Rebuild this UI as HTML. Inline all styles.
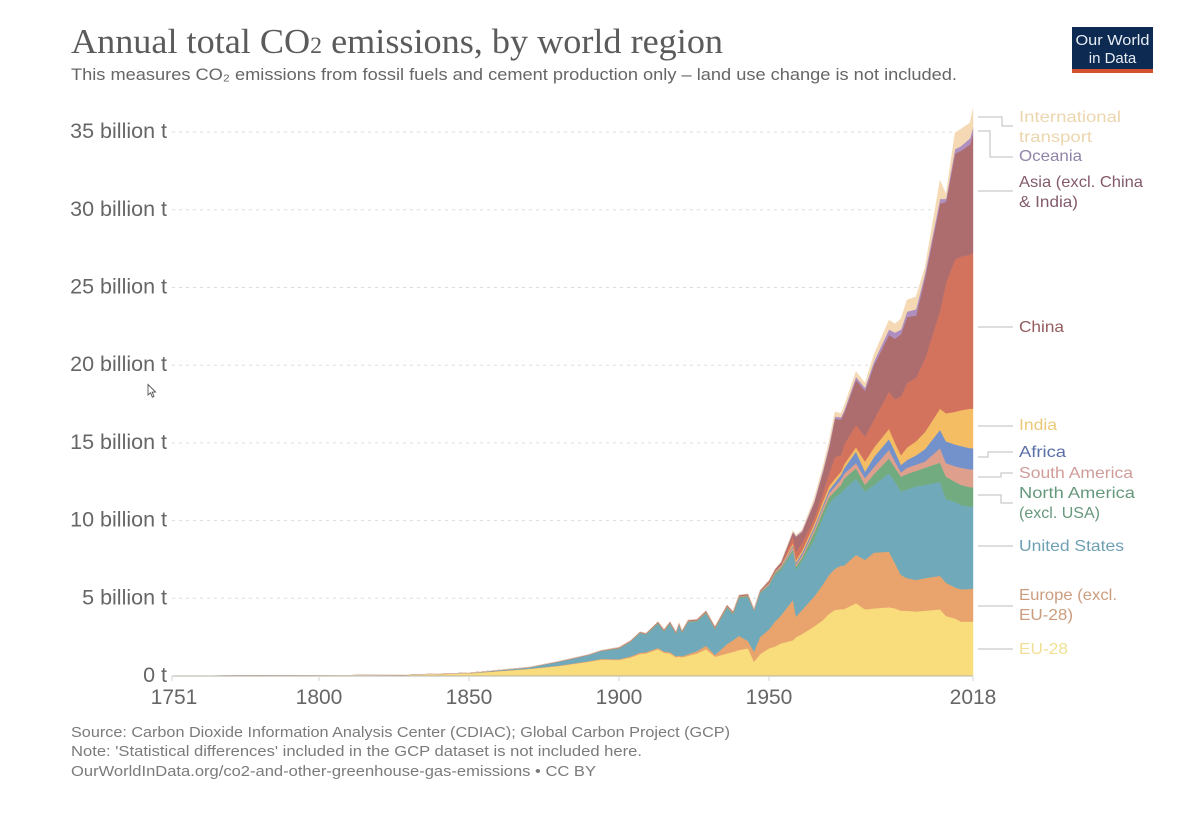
<!DOCTYPE html>
<html lang="en">
<head>
<meta charset="utf-8">
<title>Annual total CO2 emissions, by world region</title>
<style>
  html, body { margin: 0; padding: 0; background: #fff; }
  svg { display: block; font-family: "Liberation Sans", sans-serif; filter: blur(0.35px); }
</style>
</head>
<body>
<svg id="chart" xmlns="http://www.w3.org/2000/svg" width="1200" height="815" viewBox="0 0 1200 815">
  <rect width="1200" height="815" fill="#ffffff"/>
  <text x="71" y="53" font-family="'Liberation Serif', serif" font-size="35" fill="#5b5b5b" textLength="652" lengthAdjust="spacingAndGlyphs">Annual total CO<tspan font-size="23">2</tspan> emissions, by world region</text>
  <text x="71" y="80" font-size="17" fill="#666666" textLength="886" lengthAdjust="spacingAndGlyphs">This measures CO₂ emissions from fossil fuels and cement production only – land use change is not included.</text>

  <g>
    <rect x="1072" y="27" width="81" height="46" fill="#0c2a52"/>
    <rect x="1072" y="69" width="81" height="4" fill="#d2522f"/>
    <text x="1112.5" y="45" font-size="15" fill="#e8edf4" text-anchor="middle" textLength="74" lengthAdjust="spacingAndGlyphs">Our World</text>
    <text x="1112.5" y="63" font-size="15" fill="#e8edf4" text-anchor="middle">in Data</text>
  </g>

  <g id="grid"></g>
  <g id="areas"></g>
  <g id="axes"></g>

  <g fill="none" stroke="#c9c9c9" stroke-width="1.2">
    <path d="M978 117H1002V126H1013"/>
    <path d="M978 131H990V157H1013"/>
    <path d="M978 191H1013"/>
    <path d="M978 327H1013"/>
    <path d="M978 426H1013"/>
    <path d="M978 457H988V452H1013"/>
    <path d="M978 477H1001V473H1013"/>
    <path d="M978 495H1001V503H1013"/>
    <path d="M978 546H1013"/>
    <path d="M978 606H1013"/>
    <path d="M978 649H1013"/>
  </g>

  <g font-size="16">
    <text x="1019" y="122" fill="#ecd6ae" textLength="102" lengthAdjust="spacingAndGlyphs">International</text>
    <text x="1019" y="142" fill="#ecd6ae" textLength="73" lengthAdjust="spacingAndGlyphs">transport</text>
    <text x="1019" y="161" fill="#9184a8" textLength="63" lengthAdjust="spacingAndGlyphs">Oceania</text>
    <text x="1019" y="187" fill="#835a6c" textLength="124" lengthAdjust="spacingAndGlyphs">Asia (excl. China</text>
    <text x="1019" y="207" fill="#835a6c" textLength="59" lengthAdjust="spacingAndGlyphs">&amp; India)</text>
    <text x="1019" y="332" fill="#945c5e" textLength="45" lengthAdjust="spacingAndGlyphs">China</text>
    <text x="1019" y="430" fill="#ecc978" textLength="38" lengthAdjust="spacingAndGlyphs">India</text>
    <text x="1019" y="457" fill="#5a6fa8" textLength="47" lengthAdjust="spacingAndGlyphs">Africa</text>
    <text x="1019" y="478" fill="#d09c9a" textLength="114" lengthAdjust="spacingAndGlyphs">South America</text>
    <text x="1019" y="498" fill="#66987c" textLength="116" lengthAdjust="spacingAndGlyphs">North America</text>
    <text x="1019" y="518" fill="#66987c" textLength="81" lengthAdjust="spacingAndGlyphs">(excl. USA)</text>
    <text x="1019" y="551" fill="#6f9fb3" textLength="105" lengthAdjust="spacingAndGlyphs">United States</text>
    <text x="1019" y="600" fill="#cb9c7e" textLength="98" lengthAdjust="spacingAndGlyphs">Europe (excl.</text>
    <text x="1019" y="620" fill="#cb9c7e" textLength="54" lengthAdjust="spacingAndGlyphs">EU-28)</text>
    <text x="1019" y="654" fill="#f0df94" textLength="49" lengthAdjust="spacingAndGlyphs">EU-28</text>
  </g>

  <g font-size="14.5" fill="#7b7b7b">
    <text x="71" y="737" textLength="659" lengthAdjust="spacingAndGlyphs">Source: Carbon Dioxide Information Analysis Center (CDIAC); Global Carbon Project (GCP)</text>
    <text x="71" y="756" textLength="571" lengthAdjust="spacingAndGlyphs">Note: 'Statistical differences' included in the GCP dataset is not included here.</text>
    <text x="71" y="776" textLength="525" lengthAdjust="spacingAndGlyphs">OurWorldInData.org/co2-and-other-greenhouse-gas-emissions • CC BY</text>
  </g>

  <path d="M148 384.5V395L150.6 392.8L152.4 397.2L154 396.4L152.2 392.2L155.6 392Z" fill="#ffffff" stroke="#555555" stroke-width="0.9"/>
</svg>

<script>
// Chart data, billions of tonnes per year.
const years = [1751,1800,1830,1850,1870,1880,1890,1894,1900,1904,1907,1909,1913,1915,1917,1919,1920,1921,1923,1926,1929,1932,1936,1938,1940,1943,1945,1947,1950,1952,1954,1958,1959,1961,1965,1968,1970,1972,1974,1975,1979,1982,1985,1990,1992,1994,1996,1999,2002,2007,2009,2012,2014,2017,2018];
const eu28 = [.01,.03,.07,.17,.45,.64,.92,1.05,1.03,1.2,1.42,1.45,1.72,1.5,1.45,1.2,1.25,1.2,1.3,1.45,1.72,1.24,1.45,1.55,1.67,1.78,.92,1.4,1.78,1.9,2.1,2.3,2.5,2.7,3.18,3.6,4.0,4.25,4.3,4.3,4.68,4.29,4.35,4.42,4.35,4.2,4.2,4.15,4.2,4.29,3.86,3.7,3.5,3.5,3.5];
const europeOther = [0,0,.01,.01,.02,.03,.04,.05,.05,.07,.08,.09,.08,.08,.08,.07,.07,.07,.1,.15,.23,.11,.6,.75,.91,.47,.65,1.1,1.22,1.6,1.8,2.6,1.32,1.55,1.92,2.3,2.5,2.65,2.8,2.8,3.11,3.18,3.59,3.58,2.9,2.3,2.1,2.03,2.1,2.15,2.14,2.0,2.08,2.1,2.12];
const unitedStates = [0,0,0,.02,.08,.25,.39,.5,.67,.93,1.25,1.11,1.55,1.27,1.82,1.43,1.96,1.5,2.05,1.9,2.07,1.65,2.32,1.65,2.42,2.82,2.63,2.8,2.8,3.0,2.9,3.1,3.0,3.15,3.65,4.3,4.6,4.6,4.7,4.9,4.91,4.4,4.36,5.05,5.25,5.37,5.7,6.02,6.0,6.06,5.4,5.5,5.42,5.3,5.28];
const northAmerica = [0,0,0,0,.01,.01,.01,.02,.03,.03,.03,.03,.05,.05,.05,.05,.05,.05,.05,.05,.06,.06,.07,.07,.07,.07,.03,.07,.06,.1,.15,.15,.22,.2,.45,.4,.4,.4,.5,.7,.67,.43,.7,.95,.9,.96,1.0,1.0,1.1,1.23,1.43,1.3,1.3,1.25,1.25];
const southAmerica = [0,0,0,0,0,0,0,0,.01,.01,.01,.01,.01,.01,.01,.01,.01,.01,.01,.01,.02,.02,.02,.02,.02,.02,.02,.02,.04,.02,.05,.15,.16,.15,.2,.25,.25,.3,.35,.3,.33,.43,.45,.55,.4,.27,.4,.4,.4,.93,.87,1.0,1.1,1.15,1.15];
const africa = [0,0,0,0,0,0,0,0,.01,.01,.01,.01,.01,.01,.01,.01,.01,.01,.01,.01,.01,.01,.01,.01,.01,.01,.01,.01,.03,.03,.05,.1,.1,.15,.15,.15,.2,.25,.29,.35,.74,.42,.65,.69,.65,.48,.5,.6,.8,1.18,1.4,1.4,1.4,1.36,1.36];
const india = [0,0,0,0,0,0,.01,.01,.01,.01,.01,.01,.01,.01,.01,.01,.01,.01,.01,.01,.02,.02,.02,.02,.02,.02,.02,.02,.04,.05,.05,.15,.15,.15,.2,.25,.25,.25,.21,.25,.28,.65,.6,.66,.55,.62,.8,.9,1.1,1.36,1.8,2.1,2.3,2.54,2.54];
const china = [0,0,0,0,0,0,0,0,.01,.01,.01,.01,.02,.02,.02,.02,.02,.02,.02,.02,.02,.02,.02,.02,.02,.02,.02,.02,.05,.05,.05,.45,.55,.5,.35,.55,.8,1.4,1.05,1.27,1.44,1.6,1.8,2.4,2.8,3.8,4.14,4.1,4.7,6.3,8.4,9.8,9.9,9.9,10.0];
const asiaOther = [0,0,0,0,.01,.02,.02,.02,.03,.03,.03,.03,.04,.04,.04,.04,.04,.04,.04,.04,.05,.05,.06,.05,.06,.06,.02,.06,.1,.1,.15,.25,.95,.7,1.0,1.3,1.65,2.45,2.3,2.03,2.89,2.95,3.5,3.65,3.9,4.0,4.26,4.0,5.2,6.9,5.2,6.8,6.8,7.1,7.7];
const oceania = [0,0,0,0,0,0,0,0,0,0,0,0,.01,.01,.01,.01,.01,.01,.01,.01,.01,.01,.01,.01,.01,.01,.01,.01,.02,.02,.02,.05,.05,.08,.1,.15,.15,.15,.15,.15,.2,.2,.25,.35,.4,.3,.35,.4,.3,.3,.2,.3,.3,.4,.4];
const internationalTransport = [0,0,0,0,0,0,0,0,0,0,0,0,.01,.01,.01,.01,.01,.01,.01,.01,.01,.01,.01,.01,.01,.01,.01,.01,.06,.03,.04,.06,.08,.07,.2,.25,.3,.3,.25,.3,.35,.3,.45,.6,.56,.7,.75,.8,.4,1.2,.3,1.05,1.1,1.0,1.2];

const seriesNames = ['eu-28','europe-excl-eu-28','united-states','north-america-excl-usa','south-america','africa','india','china','asia-excl-china-india','oceania','international-transport'];
const seriesColors = ['#f9dc7c','#e9a36c','#70a9b9','#73ab80','#de9f8c','#7391cb','#f5bd63','#d3735d','#ad6d6f','#ae8fbf','#f4d9b4'];
const seriesValues = [eu28,europeOther,unitedStates,northAmerica,southAmerica,africa,india,china,asiaOther,oceania,internationalTransport];

const yTickValues = [0,5,10,15,20,25,30,35];
const yTickLabels = ['0 t','5 billion t','10 billion t','15 billion t','20 billion t','25 billion t','30 billion t','35 billion t'];
const xTickValues = [1751,1800,1850,1900,1950,2018];

const SVG_NS = 'http://www.w3.org/2000/svg';
const plotLeft = 172, plotRight = 973, plotBottom = 676, pxPerBillion = 15.54;

function xScale(year) {
  return plotLeft + (year - 1751) * (plotRight - plotLeft) / (2018 - 1751);
}
function yScale(value) {
  return plotBottom - value * pxPerBillion;
}
function make(tag, parent) {
  const el = document.createElementNS(SVG_NS, tag);
  parent.appendChild(el);
  return el;
}

const gridGroup = document.getElementById('grid');
const areaGroup = document.getElementById('areas');
const axisGroup = document.getElementById('axes');

// Gridlines and y-axis labels
yTickValues.forEach(function (tick, i) {
  const y = yScale(tick);
  if (tick > 0) {
    const line = make('line', gridGroup);
    
    
    line.setAttribute('x1', plotLeft);
    line.setAttribute('x2', plotRight);
    line.setAttribute('y1', y);
    line.setAttribute('y2', y);
    line.setAttribute('stroke', '#dddddd');
    line.setAttribute('stroke-width', '1');
    line.setAttribute('stroke-dasharray', '3 4');
  }
  const label = make('text', axisGroup);
  
  
  label.setAttribute('x', 167);
  label.setAttribute('y', y + 6);
  label.setAttribute('text-anchor', 'end');
  label.setAttribute('font-size', '21.5');
  label.setAttribute('fill', '#666666');
  label.textContent = yTickLabels[i];
});

// Stacked areas
const baseline = years.map(function () { return 0; });
seriesValues.forEach(function (values, s) {
  const lower = baseline.slice();
  const upper = values.map(function (v, i) { return lower[i] + v; });
  let d = '';
  years.forEach(function (year, i) {
    d += (i === 0 ? 'M' : 'L') + xScale(year).toFixed(2) + ' ' + yScale(upper[i]).toFixed(2);
  });
  for (let i = years.length - 1; i >= 0; i--) {
    d += 'L' + xScale(years[i]).toFixed(2) + ' ' + yScale(lower[i]).toFixed(2);
  }
  d += 'Z';
  const area = make('path', areaGroup);
  
  
  area.setAttribute('d', d);
  area.setAttribute('fill', seriesColors[s]);
  area.setAttribute('stroke', seriesColors[s]);
  area.setAttribute('stroke-width', '0.4');
  upper.forEach(function (v, i) { baseline[i] = v; });
});

// X axis
const axisLine = make('line', axisGroup);


axisLine.setAttribute('x1', plotLeft);
axisLine.setAttribute('x2', plotRight);
axisLine.setAttribute('y1', plotBottom);
axisLine.setAttribute('y2', plotBottom);
axisLine.setAttribute('stroke', '#b5b5a8');
axisLine.setAttribute('stroke-width', '1');

xTickValues.forEach(function (year) {
  const x = xScale(year);
  const tick = make('line', axisGroup);
  
  
  tick.setAttribute('x1', x);
  tick.setAttribute('x2', x);
  tick.setAttribute('y1', plotBottom);
  tick.setAttribute('y2', plotBottom + 5);
  tick.setAttribute('stroke', '#d5d5d5');
  tick.setAttribute('stroke-width', '1');
  const label = make('text', axisGroup);
  
  
  label.setAttribute('x', year === 1751 ? x + 2 : x);
  label.setAttribute('y', 704);
  label.setAttribute('text-anchor', 'middle');
  label.setAttribute('font-size', '21');
  label.setAttribute('fill', '#666666');
  label.textContent = String(year);
});
</script>
</body>
</html>
